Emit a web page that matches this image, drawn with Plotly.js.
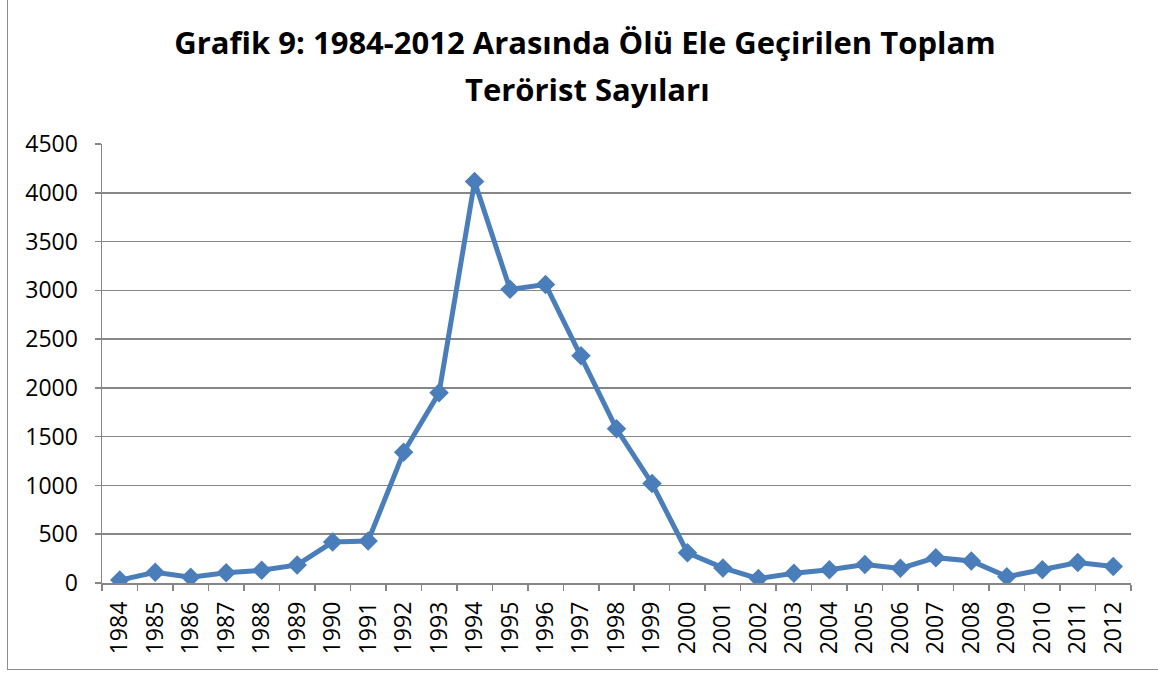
<!DOCTYPE html>
<html>
<head>
<meta charset="utf-8">
<script src="https://cdn.plot.ly/plotly-3.0.1.min.js"></script>
<style>
  html, body { margin: 0; padding: 0; background: #ffffff; }
  #wrap { position: relative; width: 1158px; height: 677px; overflow: hidden; }
  #frame { position: absolute; left: 7px; top: -5px; width: 1160px; height: 675px;
           border: 1.5px solid #8c8c8c; box-sizing: border-box; }
  #chart { position: absolute; left: 0; top: 0; width: 1158px; height: 677px; }
</style>
</head>
<body>
<div id="wrap">
  <div id="frame"></div>
  <div id="chart"></div>
</div>
<script>
const titleLine1 = "Grafik 9: 1984-2012 Arasında Ölü Ele Geçirilen Toplam";
const titleLine2 = "Terörist Sayıları";

const years = ["1984","1985","1986","1987","1988","1989","1990","1991","1992","1993",
               "1994","1995","1996","1997","1998","1999","2000","2001","2002","2003",
               "2004","2005","2006","2007","2008","2009","2010","2011","2012"];
const captured = [30, 110, 60, 105, 130, 185, 420, 430, 1340, 1950,
                  4115, 3010, 3060, 2330, 1580, 1020, 310, 155, 45, 100,
                  135, 190, 150, 260, 225, 65, 135, 210, 170];

const yTicks = [0, 500, 1000, 1500, 2000, 2500, 3000, 3500, 4000, 4500];

const gray = "#868686";
const tickFont = { family: "Open Sans, sans-serif", size: 23, color: "#000000" };
const titleFont = { family: "Open Sans, sans-serif", size: 31, color: "#000000", weight: 700 };

const trace = {
  type: "scatter",
  mode: "lines+markers",
  x: years,
  y: captured,
  line: { color: "#4A7EBB", width: 5 },
  marker: { symbol: "diamond", size: 15, color: "#4A7EBB" },
  hoverinfo: "x+y"
};

const layout = {
  width: 1158,
  height: 677,
  paper_bgcolor: "rgba(0,0,0,0)",
  plot_bgcolor: "rgba(0,0,0,0)",
  margin: { l: 102, r: 27, t: 144, b: 94 },
  showlegend: false,
  title: {
    text: "<b>" + titleLine1 + "</b>",
    font: titleFont,
    x: 585 / 1158, xanchor: "center",
    y: 1 - 43 / 677, yanchor: "middle",
    xref: "container", yref: "container"
  },
  annotations: [{
    text: "<b>" + titleLine2 + "</b>",
    font: titleFont,
    xref: "paper", yref: "paper",
    x: (587 - 102) / 1029, xanchor: "center",
    y: 1 + (144 - 89) / 439, yanchor: "middle",
    showarrow: false
  }],
  xaxis: {
    type: "category",
    range: [-0.5, years.length - 0.5],
    tickangle: -90,
    tickfont: tickFont,
    ticks: "outside",
    tickson: "boundaries",
    ticklen: 6,
    tickcolor: gray,
    tickwidth: 1.5,
    showline: true,
    linecolor: gray,
    linewidth: 1.5,
    showgrid: false,
    zeroline: false,
    ticklabelstandoff: 8,
    fixedrange: true
  },
  yaxis: {
    range: [0, 4500],
    tickmode: "array",
    tickvals: yTicks,
    ticktext: yTicks.map(String),
    tickfont: tickFont,
    ticks: "outside",
    ticklen: 6,
    tickcolor: gray,
    tickwidth: 1.5,
    showline: true,
    linecolor: gray,
    linewidth: 1.5,
    showgrid: true,
    gridcolor: gray,
    gridwidth: 1.5,
    zeroline: false,
    ticklabelstandoff: 12,
    fixedrange: true
  }
};

Plotly.newPlot("chart", [trace], layout, { displayModeBar: false, staticPlot: true });
</script>
</body>
</html>
